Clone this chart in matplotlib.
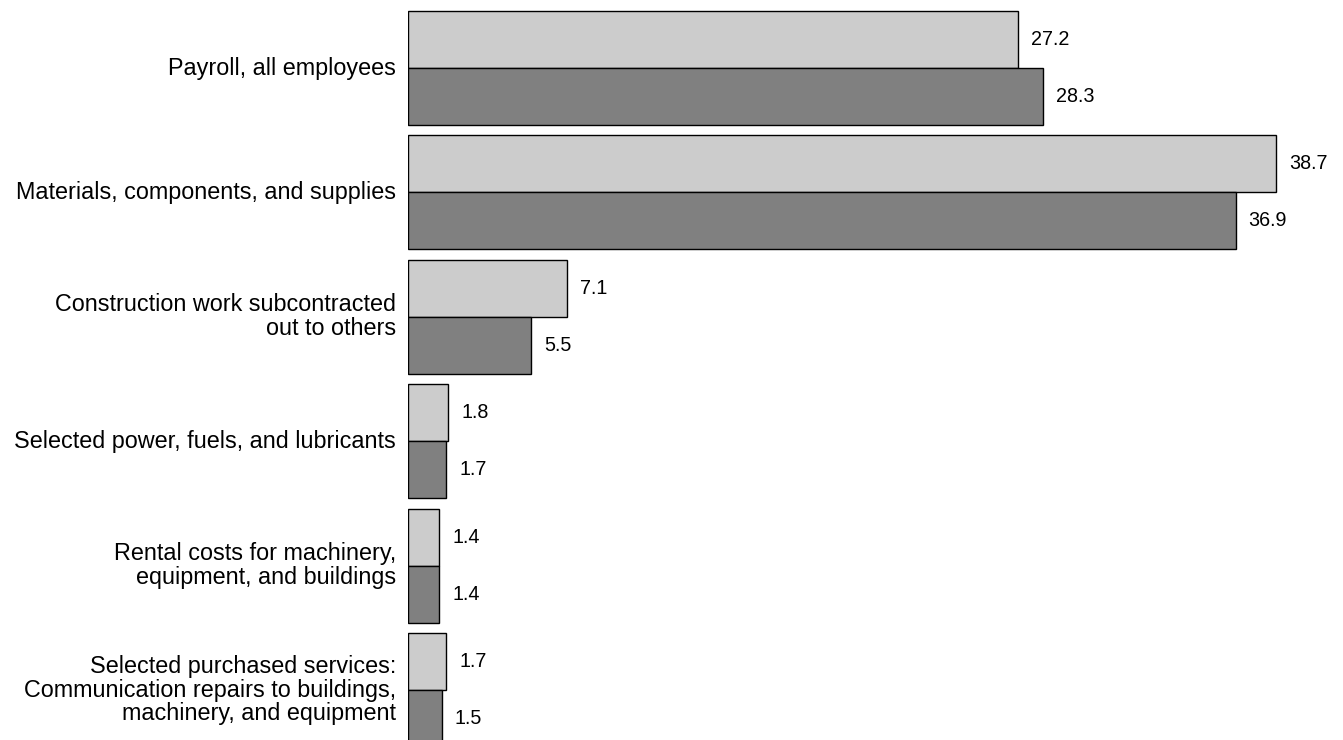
import numpy as np
import matplotlib.pyplot as plt

categories = [
	"Payroll, all employees",
	"Materials, components, and supplies",
	"Construction work subcontracted\nout to others",
	"Selected power, fuels, and lubricants",
	"Rental costs for machinery,\nequipment, and buildings",
	"Selected purchased services:\nCommunication repairs to buildings,\nmachinery, and equipment",
]
first = [27.2, 38.7, 7.1, 1.8, 1.4, 1.7]
second = [28.3, 36.9, 5.5, 1.7, 1.4, 1.5]

plt.rcParams['font.family'] = ['Liberation Sans', 'DejaVu Sans']

W, H = 1343, 740
fig = plt.figure(figsize=(W / 100, H / 100), dpi=100)
left = 408 / W
ax = fig.add_axes([left, 0, 1 - left, 1])

y = np.arange(len(categories))
h = 0.458
ax.barh(y - h / 2, first, height=h, color='#cccccc', edgecolor='black', linewidth=1)
ax.barh(y + h / 2, second, height=h, color='#808080', edgecolor='black', linewidth=1)

for yi, v in zip(y - h / 2, first):
	ax.annotate(f'{v}', (v, yi), xytext=(13, 0), textcoords='offset pixels',
				va='center', ha='left', fontsize=14.2)
for yi, v in zip(y + h / 2, second):
	ax.annotate(f'{v}', (v, yi), xytext=(13, 0), textcoords='offset pixels',
				va='center', ha='left', fontsize=14.2)

for yi, c in zip(y, categories):
	ax.annotate(c, (0, yi), xytext=(-12, 0), textcoords='offset pixels',
				va='center', ha='right', multialignment='right', fontsize=16.8,
				linespacing=1.05, annotation_clip=False)

ax.set_xlim(0, (W - 408) / 22.43)
ax.set_ylim((H - 68) / 124.4, -68 / 124.4)
ax.axis(False)

fig.savefig('out.png', dpi=100)
